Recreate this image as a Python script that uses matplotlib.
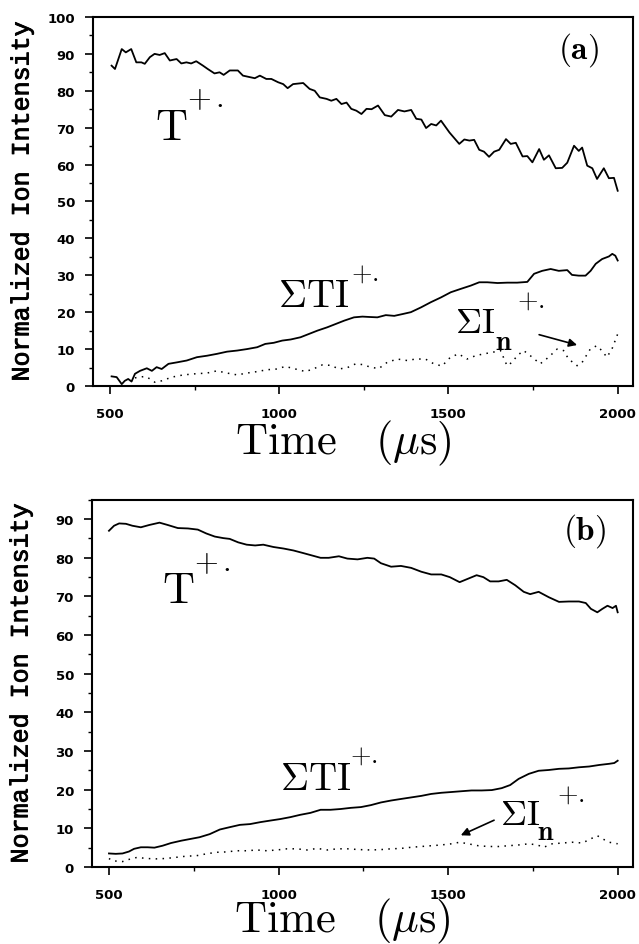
import matplotlib
matplotlib.use('Agg')
import matplotlib.pyplot as plt
import matplotlib.patheffects as pe
from matplotlib.ticker import MultipleLocator

plt.rcParams['mathtext.fontset'] = 'cm'

# ---- panel (a) data ----
t_a_x = [505, 515, 535, 547, 563, 578, 593, 603, 618, 632, 647, 662, 677, 697, 711, 726,
         740, 755, 775, 789, 809, 824, 836, 854, 878, 893, 913, 928, 943, 962, 977, 997,
         1012, 1025, 1041, 1071, 1090, 1105, 1120, 1140, 1154, 1169, 1184, 1199, 1213,
         1228, 1243, 1258, 1273, 1292, 1312, 1331, 1351, 1370, 1390, 1405, 1420, 1434,
         1449, 1464, 1478, 1503, 1532, 1547, 1562, 1576, 1591, 1605, 1620, 1635, 1650,
         1670, 1684, 1699, 1719, 1733, 1748, 1768, 1782, 1797, 1817, 1836, 1851, 1871,
         1885, 1895, 1910, 1925, 1939, 1959, 1974, 1989, 2000]
t_a_y = [86.8, 85.9, 91.3, 90.4, 91.3, 87.7, 87.7, 87.3, 89.1, 90.0, 89.7, 90.2, 88.2,
         88.6, 87.4, 87.7, 87.4, 88.0, 86.8, 85.9, 84.7, 85.0, 84.3, 85.5, 85.5, 84.1,
         83.7, 83.4, 84.1, 83.2, 83.2, 82.3, 81.8, 80.7, 81.8, 82.1, 80.5, 80.0, 78.2,
         77.8, 77.3, 77.8, 76.4, 76.8, 75.1, 74.6, 73.7, 75.1, 75.0, 76.0, 73.4, 73.0,
         74.8, 74.4, 74.8, 72.4, 72.2, 69.9, 71.0, 70.6, 71.9, 68.7, 65.6, 66.8, 66.5,
         66.7, 64.0, 63.5, 62.1, 63.5, 64.0, 66.9, 65.6, 65.9, 62.2, 62.3, 60.6, 64.2,
         61.3, 62.5, 59.0, 59.1, 60.5, 65.1, 63.7, 64.6, 59.7, 59.0, 56.1, 59.0, 56.3,
         56.4, 52.9]

sti_a_x = [505, 520, 535, 544, 554, 564, 574, 589, 609, 624, 638, 653, 673, 698, 727,
           757, 787, 816, 846, 876, 905, 935, 959, 984, 1009, 1034, 1063, 1088, 1113,
           1142, 1167, 1192, 1221, 1246, 1266, 1290, 1315, 1340, 1365, 1389, 1419, 1448,
           1478, 1507, 1536, 1566, 1591, 1615, 1645, 1674, 1703, 1733, 1753, 1777, 1802,
           1826, 1851, 1865, 1885, 1905, 1920, 1935, 1954, 1974, 1984, 1993, 2000]
sti_a_y = [2.6, 2.4, 0.5, 1.4, 1.9, 1.2, 3.3, 4.1, 4.8, 4.1, 5.1, 4.6, 6.0, 6.4, 6.9,
           7.8, 8.2, 8.7, 9.3, 9.6, 10.0, 10.5, 11.4, 11.7, 12.3, 12.6, 13.2, 14.1, 15.0,
           15.9, 16.8, 17.7, 18.6, 18.8, 18.7, 18.6, 19.2, 19.0, 19.5, 20.0, 21.3, 22.7,
           24.0, 25.4, 26.3, 27.2, 28.1, 28.1, 27.9, 28.0, 28.0, 28.2, 30.4, 31.2, 31.7,
           31.2, 31.4, 30.1, 29.9, 29.9, 31.2, 33.1, 34.4, 35.1, 35.8, 35.3, 34.0]

sin_a_x = [574, 604, 619, 633, 653, 683, 717, 752, 787, 816, 846, 876, 905, 935, 964,
           994, 1018, 1048, 1078, 1103, 1127, 1152, 1177, 1202, 1226, 1246, 1270, 1294,
           1319, 1349, 1378, 1403, 1432, 1457, 1481, 1506, 1530, 1555, 1580, 1604, 1629,
           1654, 1673, 1688, 1703, 1722, 1742, 1771, 1796, 1821, 1840, 1855, 1880, 1895,
           1919, 1938, 1953, 1968, 1983, 2000]
sin_a_y = [2.2, 2.6, 1.9, 1.0, 1.4, 2.4, 3.0, 3.3, 3.5, 4.1, 3.5, 3.0, 3.5, 3.9, 4.4,
           4.6, 5.3, 4.6, 3.9, 4.7, 5.7, 5.6, 4.6, 5.0, 6.0, 5.8, 5.1, 4.7, 6.4, 7.3,
           6.9, 7.3, 7.3, 6.0, 5.4, 7.8, 8.7, 7.3, 8.2, 8.7, 9.1, 9.6, 5.5, 6.4, 8.2,
           9.6, 8.2, 6.0, 7.8, 10.0, 9.6, 7.3, 5.5, 6.4, 10.0, 10.9, 9.6, 7.8, 10.0, 14.1]

# ---- panel (b) data ----
t_b_x = [500, 515, 530, 550, 569, 594, 619, 649, 673, 703, 733, 762, 787, 812, 837, 856,
         881, 906, 931, 955, 985, 1015, 1044, 1074, 1099, 1124, 1148, 1178, 1203, 1233,
         1262, 1282, 1302, 1332, 1361, 1391, 1421, 1450, 1480, 1505, 1534, 1559, 1584,
         1604, 1624, 1649, 1673, 1698, 1723, 1742, 1767, 1797, 1827, 1856, 1886, 1906,
         1921, 1940, 1955, 1970, 1985, 1995, 2000]
t_b_y = [87.0, 88.3, 88.9, 88.8, 88.3, 87.9, 88.5, 89.1, 88.5, 87.7, 87.6, 87.3, 86.3,
         85.5, 85.1, 84.9, 84.0, 83.4, 83.2, 83.4, 82.8, 82.4, 81.9, 81.2, 80.6, 80.0,
         80.0, 80.4, 79.8, 79.6, 80.0, 79.8, 78.6, 77.7, 77.9, 77.4, 76.4, 75.7, 75.7,
         75.0, 73.7, 74.6, 75.5, 75.0, 73.9, 73.9, 74.3, 72.9, 71.2, 70.6, 71.2, 69.8,
         68.6, 68.7, 68.7, 68.3, 66.8, 65.9, 66.8, 67.6, 67.0, 67.6, 65.9]

sti_b_x = [500, 520, 540, 559, 574, 594, 614, 634, 658, 683, 713, 743, 767, 797, 827,
           856, 886, 916, 946, 975, 1005, 1035, 1064, 1094, 1124, 1153, 1183, 1213, 1243,
           1272, 1302, 1332, 1361, 1391, 1421, 1450, 1480, 1510, 1539, 1569, 1599, 1629,
           1658, 1683, 1708, 1738, 1767, 1797, 1827, 1856, 1886, 1916, 1946, 1975, 1990,
           2000]
sti_b_y = [3.5, 3.4, 3.5, 4.0, 4.7, 5.1, 5.1, 5.0, 5.5, 6.2, 6.8, 7.3, 7.7, 8.5, 9.7,
           10.3, 10.9, 11.1, 11.6, 12.0, 12.4, 12.9, 13.5, 14.0, 14.8, 14.8, 15.0, 15.3,
           15.5, 16.0, 16.7, 17.2, 17.6, 18.0, 18.4, 18.9, 19.2, 19.4, 19.6, 19.8, 19.8,
           19.9, 20.4, 21.2, 22.8, 24.1, 24.9, 25.1, 25.4, 25.5, 25.8, 26.0, 26.4, 26.7,
           26.9, 27.5]

sin_b_x = [500, 510, 540, 564, 584, 609, 639, 668, 698, 728, 757, 787, 817, 847, 876,
           906, 936, 965, 995, 1025, 1054, 1084, 1114, 1144, 1173, 1203, 1238, 1272, 1302,
           1332, 1361, 1391, 1421, 1450, 1480, 1510, 1534, 1559, 1589, 1619, 1649, 1678,
           1708, 1738, 1763, 1782, 1807, 1837, 1867, 1896, 1921, 1940, 1955, 1975, 2000]
sin_b_y = [2.2, 1.6, 1.4, 2.1, 2.5, 2.2, 2.1, 2.2, 2.5, 2.8, 2.9, 3.4, 3.8, 3.9, 4.2,
           4.2, 4.4, 4.2, 4.4, 4.7, 4.7, 4.4, 4.8, 4.4, 4.7, 4.7, 4.5, 4.4, 4.5, 4.7,
           4.8, 5.1, 5.3, 5.5, 5.7, 6.0, 6.4, 6.0, 5.5, 5.3, 5.3, 5.5, 5.7, 6.0, 5.7,
           5.1, 6.0, 6.2, 6.4, 6.2, 7.3, 8.1, 7.3, 6.4, 6.0]

# label pieces: (x, y, text, fontsize), text baseline at y
labels_a = [(633, 66.9, r'$\mathrm{T}$', 32), (727, 75.9, r'$+\,.$', 22),
            (996, 21.6, r'$\Sigma\mathrm{TI}$', 28), (1212, 28.8, r'$+.$', 19),
            (1519, 14.5, r'$\Sigma\mathrm{I}$', 26), (1637, 10.0, r'$\mathbf{n}$', 20),
            (1702, 21.4, r'$+.$', 19)]
labels_b = [(656, 68.5, r'$\mathrm{T}$', 32), (752, 76.8, r'$+\,.$', 22),
            (1005, 20.2, r'$\Sigma\mathrm{TI}$', 28), (1210, 27.2, r'$+.$', 19),
            (1653, 11.1, r'$\Sigma\mathrm{I}$', 26), (1762, 7.2, r'$\mathbf{n}$', 20),
            (1822, 17.1, r'$+.$', 19)]

panels = [
    dict(t=(t_a_x, t_a_y), sti=(sti_a_x, sti_a_y), sin=(sin_a_x, sin_a_y),
         ylim=(0, 100), pos=[0.1455, 0.5905, 0.845, 0.3905], tag='(a)',
         labels=labels_a, arrow=((1760, 14.1), (1888, 10.9)), tag_pos=(1883, 91.3),
         xlab_y=-0.152),
    dict(t=(t_b_x, t_b_y), sti=(sti_b_x, sti_b_y), sin=(sin_b_x, sin_b_y),
         ylim=(0, 95), pos=[0.144, 0.0815, 0.8465, 0.3885], tag='(b)',
         labels=labels_b, arrow=((1643, 12.4), (1530, 7.9)), tag_pos=(1903, 87.2),
         xlab_y=-0.145),
]

fig = plt.figure(figsize=(6.39, 9.45), dpi=100)

for p in panels:
    ax = fig.add_axes(p['pos'])
    ax.plot(*p['t'], color='black', lw=1.3)
    ax.plot(*p['sti'], color='black', lw=1.3)
    ax.plot(*p['sin'], color='black', lw=1.1, linestyle=(0, (1, 3.5)))

    ax.set_xlim(450, 2045)
    ax.set_ylim(*p['ylim'])
    ax.xaxis.set_major_locator(MultipleLocator(500))
    ax.xaxis.set_minor_locator(MultipleLocator(250))
    ax.yaxis.set_major_locator(MultipleLocator(10))
    ax.yaxis.set_minor_locator(MultipleLocator(5))
    ax.tick_params(which='major', direction='out', length=6, width=1.2)
    ax.tick_params(axis='x', which='major', pad=9)
    ax.tick_params(axis='y', which='major', pad=7)
    ax.tick_params(which='minor', direction='out', length=3, width=1.0)
    for lbl in ax.get_xticklabels() + ax.get_yticklabels():
        lbl.set_fontfamily('DejaVu Sans')
        lbl.set_fontweight('bold')
        lbl.set_fontsize(9.5)
    for s in ax.spines.values():
        s.set_linewidth(1.5)

    ylab = ax.set_ylabel('Normalized Ion Intensity', family='Liberation Mono',
                         fontweight='normal', fontsize=18)
    ylab.set_path_effects([pe.withStroke(linewidth=0.6, foreground='black')])
    ax.yaxis.set_label_coords(-0.11, 0.5)
    ax.text(0.463, p['xlab_y'], r'$\mathrm{Time}\ \ \ (\mu\mathrm{s})$',
            transform=ax.transAxes, ha='center', va='center', fontsize=32)

    for x, y, s, fs in p['labels']:
        ax.text(x, y, s, fontsize=fs, ha='left', va='baseline')
    ax.annotate('', xy=p['arrow'][1], xytext=p['arrow'][0],
                arrowprops=dict(arrowstyle='-|>', color='black', lw=1.2, mutation_scale=12))
    ax.text(*p['tag_pos'], r'$\mathbf{' + p['tag'] + '}$', fontsize=24,
            ha='center', va='center')

fig.savefig('out.png', dpi=100)
